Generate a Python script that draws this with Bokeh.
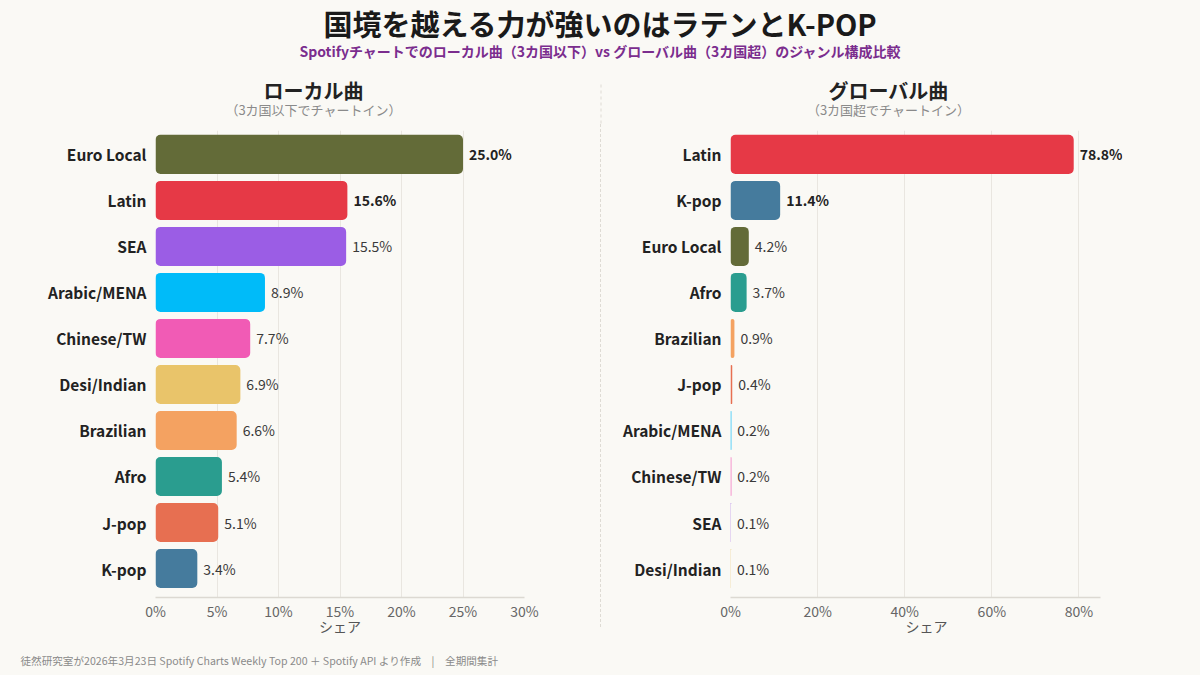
from bokeh.plotting import figure
from bokeh.layouts import column, row
from bokeh.models import (ColumnDataSource, Range1d, FixedTicker, PrintfTickFormatter,
                          LabelSet, Div, GlobalInlineStyleSheet)
from bokeh.core.properties import value
from bokeh.embed import file_html
from bokeh.resources import INLINE

# data (share in %)
local_genres = ["Euro Local", "Latin", "SEA", "Arabic/MENA", "Chinese/TW",
                "Desi/Indian", "Brazilian", "Afro", "J-pop", "K-pop"]
local_share = [25.0, 15.6, 15.5, 8.9, 7.7, 6.9, 6.6, 5.4, 5.1, 3.4]

global_genres = ["Latin", "K-pop", "Euro Local", "Afro", "Brazilian",
                 "J-pop", "Arabic/MENA", "Chinese/TW", "SEA", "Desi/Indian"]
global_share = [78.8, 11.4, 4.2, 3.7, 0.9, 0.4, 0.2, 0.2, 0.1, 0.1]

local_ticks = [0, 5, 10, 15, 20, 25, 30]
global_ticks = [0, 20, 40, 60, 80]

genre_colors = {
    "Euro Local": "#636b38",
    "Latin": "#e63946",
    "SEA": "#9b5de5",
    "Arabic/MENA": "#00bbf9",
    "Chinese/TW": "#f15bb5",
    "Desi/Indian": "#e9c46a",
    "Brazilian": "#f4a261",
    "Afro": "#2a9d8f",
    "J-pop": "#e76f51",
    "K-pop": "#457b9d",
}

main_title = "国境を越える力が強いのはラテンとK-POP"
main_sub = "Spotifyチャートでのローカル曲（3カ国以下）vs グローバル曲（3カ国超）のジャンル構成比較"
panel_titles = ["ローカル曲", "グローバル曲"]
panel_subs = ["（3カ国以下でチャートイン）", "（3カ国超でチャートイン）"]
footer_text = "徒然研究室が2026年3月23日 Spotify Charts Weekly Top 200 ＋ Spotify API より作成　|　全期間集計"

BG = "#faf9f5"
FONT = "Noto Sans CJK JP"
W_PAGE = 1200
H_HEAD = 124
H_PANEL = 523
H_FOOT = 28


def panel(genres, shares, axis_end, view_end, ticks, width, border_left, border_right):
    pos = list(range(len(genres)))
    src = ColumnDataSource(dict(
        y=pos,
        share=shares,
        color=[genre_colors[g] for g in genres],
        label=[f"{s:.1f}%" for s in shares],
        style=["bold" if i < 2 else "normal" for i in pos],
        tcolor=["#222222" if i < 2 else "#3a3a3a" for i in pos],
    ))
    # view_end leaves room for the value label of the longest bar; the axis stops at axis_end
    p = figure(width=width, height=H_PANEL, title=None,
               x_range=Range1d(0, view_end), y_range=Range1d(len(genres) - 0.37, -0.52),
               output_backend="svg", toolbar_location=None,
               min_border_left=border_left, min_border_right=border_right,
               min_border_top=6, min_border_bottom=50,
               background_fill_color=BG, border_fill_color=BG, outline_line_color=None)

    p.hbar(y="y", right="share", left=0, height=0.85, source=src,
           fill_color="color", line_color=None, border_radius=5)
    p.add_layout(LabelSet(x="share", y="y", text="label", source=src, x_offset=6,
                          text_baseline="middle", text_align="left",
                          text_font=value(FONT), text_font_size="14px",
                          text_font_style="style", text_color="tcolor"))

    # category axis
    p.yaxis.ticker = FixedTicker(ticks=pos)
    p.yaxis.major_label_overrides = {i: g for i, g in zip(pos, genres)}
    p.yaxis.major_label_text_font = FONT
    p.yaxis.major_label_text_font_size = "15.5px"
    p.yaxis.major_label_text_font_style = "bold"
    p.yaxis.major_label_text_color = "#222222"
    p.yaxis.major_label_standoff = 3
    p.yaxis.axis_line_color = None
    p.yaxis.major_tick_line_color = None
    p.yaxis.minor_tick_line_color = None

    # share axis
    p.xaxis.bounds = (0, axis_end)
    p.xaxis.ticker = FixedTicker(ticks=ticks)
    p.xaxis.formatter = PrintfTickFormatter(format="%d%%")
    p.xaxis.axis_label = "シェア"
    p.xaxis.axis_label_text_font = FONT
    p.xaxis.axis_label_text_font_size = "14px"
    p.xaxis.axis_label_text_font_style = "normal"
    p.xaxis.axis_label_text_color = "#555555"
    p.xaxis.axis_label_standoff = -8
    p.xaxis.major_label_text_font = FONT
    p.xaxis.major_label_text_font_size = "14px"
    p.xaxis.major_label_text_color = "#666666"
    p.xaxis.major_label_standoff = 3
    p.xaxis.axis_line_color = "#dcd9d2"
    p.xaxis.axis_line_width = 1.5
    p.xaxis.major_tick_line_color = "#dcd9d2"
    p.xaxis.major_tick_in = 0
    p.xaxis.major_tick_out = 0
    p.xaxis.minor_tick_line_color = None

    p.ygrid.grid_line_color = None
    p.xgrid.grid_line_color = "#e9e6e0"
    p.xgrid.grid_line_width = 1
    return p


p1 = panel(local_genres, local_share, 30, 30, local_ticks, 600, 155, 76)
p2 = panel(global_genres, global_share, 85, 90, global_ticks, 599, 129, 78)

# header: main title, subtitle and the two panel headings
header = figure(width=W_PAGE, height=H_HEAD, x_range=Range1d(0, W_PAGE), y_range=Range1d(0, H_HEAD),
                output_backend="svg", toolbar_location=None, title=None,
                min_border=0, background_fill_color=BG, border_fill_color=BG,
                outline_line_color=None)
header.axis.visible = False
header.grid.visible = False
header.text(x=[W_PAGE / 2], y=[H_HEAD - 22], text=[main_title], text_align="center",
            text_baseline="middle", text_font=value(FONT), text_font_size="29px",
            text_font_style="bold", text_color="#1a1a1a")
header.text(x=[W_PAGE / 2], y=[H_HEAD - 50], text=[main_sub], text_align="center",
            text_baseline="middle", text_font=value(FONT), text_font_size="14px",
            text_font_style="bold", text_color="#7b2d8e")
header.text(x=[313, 888], y=[H_HEAD - 90] * 2, text=panel_titles, text_align="center",
            text_baseline="middle", text_font=value(FONT), text_font_size="20px",
            text_font_style="bold", text_color="#222222")
header.text(x=[313, 888], y=[H_HEAD - 109] * 2, text=panel_subs, text_align="center",
            text_baseline="middle", text_font=value(FONT), text_font_size="13px",
            text_color="#8a8a8a")
header.segment(x0=[600.5], y0=[H_HEAD - 84], x1=[600.5], y1=[0],
               line_color="#dedbd4", line_width=1, line_dash="3 3")

# footer
footer = figure(width=W_PAGE, height=H_FOOT, x_range=Range1d(0, W_PAGE), y_range=Range1d(0, H_FOOT),
                output_backend="svg", toolbar_location=None, title=None,
                min_border=0, background_fill_color=BG, border_fill_color=BG,
                outline_line_color=None)
footer.axis.visible = False
footer.grid.visible = False
footer.text(x=[20], y=[H_FOOT - 13], text=[footer_text], text_align="left",
            text_baseline="middle", text_font=value(FONT), text_font_size="10.6px",
            text_color="#8a8a8a")

divider = Div(text="", width=1, height=503, margin=(0, 0, 0, 0),
              styles={"border-left": "1px dashed #dedbd4"})

layout = column(header, row(p1, divider, p2), footer,
                stylesheets=[GlobalInlineStyleSheet(css="body { background-color: #faf9f5; }")])

open("out.html", "w").write(file_html(layout, INLINE))
